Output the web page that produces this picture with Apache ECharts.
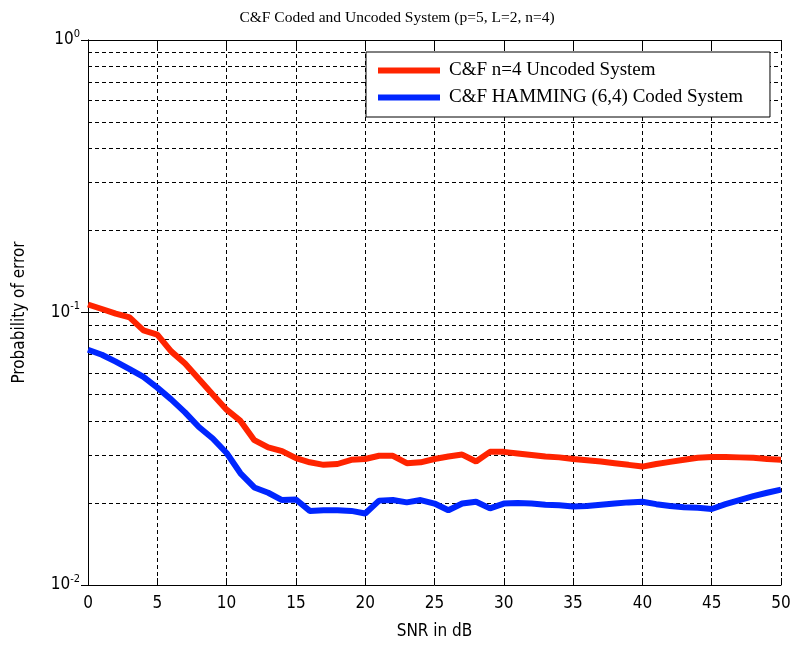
<!DOCTYPE html>
<html>
<head>
<meta charset="utf-8">
<script src="https://cdn.jsdelivr.net/npm/echarts@6/dist/echarts.min.js"></script>
<style>
html,body{margin:0;padding:0;background:#fff;}
#chart{width:794px;height:646px;}
</style>
</head>
<body>
<div id="chart"></div>
<script>
const snr = [0,1,2,3,4,5,6,7,8,9,10,11,12,13,14,15,16,17,18,19,20,21,22,23,24,25,26,27,28,29,30,31,32,33,34,35,36,37,38,39,40,41,42,43,44,45,46,47,48,49,50];
const uncoded = [0.107,0.103,0.099,0.096,0.086,0.083,0.072,0.065,0.057,0.050,0.044,0.040,0.034,0.032,0.031,0.0292,0.0282,0.0276,0.0278,0.0288,0.0290,0.0298,0.0298,0.0280,0.0282,0.0290,0.0296,0.0301,0.0284,0.0308,0.0308,0.0304,0.0300,0.0296,0.0294,0.0290,0.0287,0.0284,0.0280,0.0276,0.0272,0.0278,0.0283,0.0288,0.0293,0.0295,0.0295,0.0294,0.0293,0.0290,0.0288];
const coded = [0.073,0.070,0.066,0.062,0.058,0.053,0.048,0.043,0.038,0.0345,0.0305,0.0257,0.0228,0.0218,0.0205,0.0206,0.0187,0.0188,0.0188,0.0187,0.0183,0.0204,0.0205,0.0201,0.0205,0.0199,0.0188,0.0199,0.0202,0.0191,0.0199,0.0200,0.0199,0.0197,0.0196,0.0194,0.0195,0.0197,0.0199,0.0201,0.0202,0.0198,0.0195,0.0193,0.0192,0.0190,0.0198,0.0205,0.0212,0.0218,0.0224];
const gridVals = [0.02,0.03,0.04,0.05,0.06,0.07,0.08,0.09,0.1,0.2,0.3,0.4,0.5,0.6,0.7,0.8,0.9];
const seriesNames = ['C&F n=4 Uncoded System','C&F HAMMING (6,4) Coded System'];
const titleText = 'C&F Coded and Uncoded System (p=5, L=2, n=4)';

const tickFont = "'Liberation Sans Narrow','DejaVu Sans Condensed','Liberation Sans',sans-serif";
const serifFont = "'Liberation Serif','DejaVu Serif',serif";
const dash = [4,3];

const chart = echarts.init(document.getElementById('chart'), null, {renderer:'canvas'});
const zip = (xs, ys) => xs.map((x,i)=>[x, ys[i]]);
const option = {
  animation:false,
  backgroundColor:'#fff',
  title:{text:titleText,left:'center',top:5,textStyle:{fontFamily:serifFont,fontSize:15.5,fontWeight:'normal',color:'#000'}},
  grid:{left:88,right:13,top:40,bottom:61,containLabel:false},
  legend:{
    orient:'vertical', left:366, top:52, z:50, zlevel:1,
    backgroundColor:'#fff', borderColor:'#000', borderWidth:1,
    padding:[9,27,10,12], itemGap:8,
    itemWidth:62, itemHeight:6, icon:'rect',
    textStyle:{fontFamily:serifFont,fontSize:19,color:'#000',padding:[0,0,0,4]},
    data:seriesNames
  },
  xAxis:[{
    type:'value', min:0, max:50, interval:5, position:'bottom',
    name:'SNR in dB', nameLocation:'middle', nameGap:38,
    nameTextStyle:{fontFamily:tickFont,fontSize:17,color:'#000'},
    axisLine:{show:true,lineStyle:{color:'#000',width:1}},
    axisTick:{show:true,inside:true,length:7,lineStyle:{color:'#000'}},
    axisLabel:{fontFamily:tickFont,fontSize:17,color:'#000',margin:10},
    splitLine:{show:true,lineStyle:{color:'#000',type:dash,width:1}}
  },{
    type:'value', min:0, max:50, interval:5, position:'top',
    axisLine:{show:true,onZero:false,lineStyle:{color:'#000',width:1}},
    axisTick:{show:true,inside:true,length:7,lineStyle:{color:'#000'}},
    axisLabel:{show:false}, splitLine:{show:false}
  }],
  yAxis:[{
    type:'log', logBase:10, min:0.01, max:1, position:'left',
    name:'Probability of error', nameLocation:'middle', nameGap:60, nameRotate:90,
    nameTextStyle:{fontFamily:tickFont,fontSize:17,color:'#000'},
    axisLine:{show:true,lineStyle:{color:'#000',width:1}},
    axisTick:{show:true,inside:true,length:7,lineStyle:{color:'#000'}},
    axisLabel:{
      margin:8, color:'#000',
      formatter:function(v){const e=Math.round(Math.log10(v));return '{b|10}{s|'+e+'}';},
      rich:{b:{fontFamily:tickFont,fontSize:17,color:'#000'},s:{fontFamily:tickFont,fontSize:11,color:'#000',verticalAlign:'top',padding:[0,0,12,0]}}
    },
    splitLine:{show:false}
  },{
    type:'log', logBase:10, min:0.01, max:1, position:'right',
    axisLine:{show:true,lineStyle:{color:'#000',width:1}},
    axisTick:{show:true,inside:true,length:7,lineStyle:{color:'#000'}},
    axisLabel:{show:false}, splitLine:{show:false}
  }],
  series:[
    {name:'grid', type:'line', data:[], silent:true,
      markLine:{silent:true,symbol:['none','none'],label:{show:false},
        lineStyle:{color:'#000',type:dash,width:1},
        data:gridVals.map(v=>({yAxis:v}))}},
    {name:seriesNames[0], type:'line', data:zip(snr,uncoded), showSymbol:false, symbol:'none',
      lineStyle:{color:'#ff2400',width:6}, itemStyle:{color:'#ff2400'}, z:5},
    {name:seriesNames[1], type:'line', data:zip(snr,coded), showSymbol:false, symbol:'none',
      lineStyle:{color:'#0026ff',width:6}, itemStyle:{color:'#0026ff'}, z:5}
  ]
};
chart.setOption(option);
</script>
</body>
</html>
